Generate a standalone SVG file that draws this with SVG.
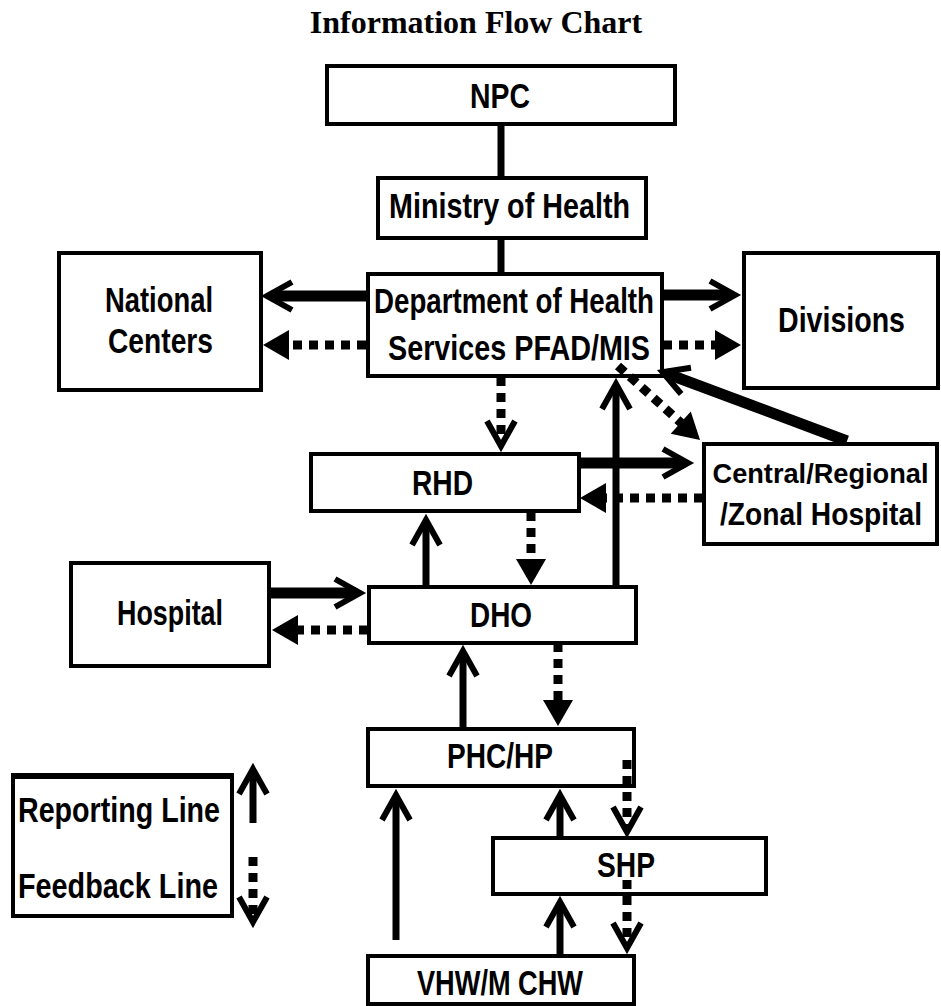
<svg xmlns="http://www.w3.org/2000/svg" width="941" height="1006" viewBox="0 0 941 1006">
<style>
.box{fill:#fff;stroke:#000;stroke-width:4}
.lbl{font-family:"Liberation Sans",Arial,sans-serif;font-weight:bold;font-size:35px;fill:#000;text-anchor:middle}
.s1{font-size:28px}
.s2{font-size:31px}
.title{font-family:"Liberation Serif","Times New Roman",serif;font-weight:bold;font-size:32px;fill:#000;text-anchor:middle}
.rep{stroke:#000;stroke-width:7;fill:none}
.thick{stroke:#000;stroke-width:11;fill:none}
.fb{stroke:#000;stroke-width:9;stroke-dasharray:9 7;fill:none}
</style>
<defs>
<marker id="chev" markerUnits="userSpaceOnUse" orient="auto" refX="-4" refY="0" viewBox="-40 -25 60 50" markerWidth="60" markerHeight="50" overflow="visible">
<path d="M -25 -14 L 0 0 L -25 14" fill="none" stroke="#000" stroke-width="6"/>
</marker>
<marker id="tri" markerUnits="userSpaceOnUse" orient="auto" refX="-8" refY="0" viewBox="-40 -25 60 50" markerWidth="60" markerHeight="50" overflow="visible">
<path d="M -26 -15 L 0 0 L -26 15 Z" fill="#000"/>
</marker>
</defs>
<rect width="941" height="1006" fill="#fff"/>
<text class="title" x="476" y="33">Information Flow Chart</text>

<g id="connectors">
<line class="rep" x1="501" y1="125" x2="501" y2="177"/>
<line class="rep" x1="501" y1="239" x2="501" y2="273"/>
<line class="thick" x1="366" y1="296" x2="271" y2="296" marker-end="url(#chev)"/>
<line class="fb" x1="366" y1="345" x2="271" y2="345" marker-end="url(#tri)"/>
<line class="thick" x1="663" y1="295" x2="731" y2="295" marker-end="url(#chev)"/>
<line class="fb" x1="663" y1="345" x2="733" y2="345" marker-end="url(#tri)"/>
<line class="thick" x1="847" y1="441" x2="666.4" y2="373.5" marker-end="url(#chev)"/>
<line class="fb" x1="618" y1="366" x2="694.1" y2="434.6" marker-end="url(#tri)"/>
<line class="rep" x1="616" y1="586" x2="616" y2="388" marker-end="url(#chev)"/>
<line class="fb" x1="501" y1="377" x2="501" y2="442" marker-end="url(#chev)"/>
<line class="thick" x1="580" y1="463" x2="684" y2="463" marker-end="url(#chev)"/>
<line class="fb" x1="703" y1="498" x2="588" y2="498" marker-end="url(#tri)"/>
<line class="rep" x1="426" y1="586" x2="426" y2="524" marker-end="url(#chev)"/>
<line class="fb" x1="531" y1="512" x2="531" y2="577" marker-end="url(#tri)"/>
<line class="thick" x1="270" y1="593" x2="356" y2="593" marker-end="url(#chev)"/>
<line class="fb" x1="368" y1="630" x2="280" y2="630" marker-end="url(#tri)"/>
<line class="rep" x1="463" y1="728" x2="463" y2="655" marker-end="url(#chev)"/>
<line class="fb" x1="558" y1="643" x2="558" y2="718" marker-end="url(#tri)"/>
<line class="fb" x1="627" y1="760" x2="627" y2="828" marker-end="url(#chev)"/>
<line class="fb" x1="627" y1="880" x2="627" y2="944" marker-end="url(#chev)"/>
<line class="rep" x1="396" y1="940" x2="396" y2="799" marker-end="url(#chev)"/>
<line class="rep" x1="560" y1="837" x2="560" y2="799" marker-end="url(#chev)"/>
<line class="rep" x1="560" y1="955" x2="560" y2="906" marker-end="url(#chev)"/>
<line class="rep" x1="253" y1="823" x2="253" y2="773" marker-end="url(#chev)"/>
<line class="fb" x1="253" y1="857" x2="253" y2="918" marker-end="url(#chev)"/>
</g>

<g id="npc">
<rect class="box" x="327" y="66" width="348" height="58"/>
<text class="lbl" x="500" y="108" textLength="60" lengthAdjust="spacingAndGlyphs">NPC</text>
</g>
<g id="ministry">
<rect class="box" x="378" y="178" width="268" height="60"/>
<text class="lbl" x="509.5" y="218" textLength="241" lengthAdjust="spacingAndGlyphs">Ministry of Health</text>
</g>
<g id="dept">
<rect class="box" x="368" y="274" width="294" height="102" fill-opacity="0"/>
<text class="lbl" x="514" y="313" textLength="280" lengthAdjust="spacingAndGlyphs">Department of Health</text>
<text class="lbl" x="519" y="360" textLength="262" lengthAdjust="spacingAndGlyphs">Services PFAD/MIS</text>
</g>
<g id="national">
<rect class="box" x="59" y="253" width="202" height="137"/>
<text class="lbl" x="159" y="312" textLength="108" lengthAdjust="spacingAndGlyphs">National</text>
<text class="lbl" x="160.5" y="353" textLength="105" lengthAdjust="spacingAndGlyphs">Centers</text>
</g>
<g id="divisions">
<rect class="box" x="744" y="253" width="194" height="135"/>
<text class="lbl" x="841.5" y="332" textLength="127" lengthAdjust="spacingAndGlyphs">Divisions</text>
</g>
<g id="central">
<rect class="box" x="704" y="444" width="233" height="100"/>
<text class="lbl s1" x="820.5" y="483" textLength="216" lengthAdjust="spacingAndGlyphs">Central/Regional</text>
<text class="lbl s2" x="821" y="525" textLength="202" lengthAdjust="spacingAndGlyphs">/Zonal Hospital</text>
</g>
<g id="rhd">
<rect class="box" x="311" y="454" width="268" height="57"/>
<text class="lbl" x="442.5" y="495" textLength="61" lengthAdjust="spacingAndGlyphs">RHD</text>
</g>
<g id="dho">
<rect class="box" x="369" y="587" width="267" height="56"/>
<text class="lbl" x="501" y="627" textLength="62" lengthAdjust="spacingAndGlyphs">DHO</text>
</g>
<g id="hospital">
<rect class="box" x="71" y="563" width="198" height="103"/>
<text class="lbl" x="170" y="625" textLength="106" lengthAdjust="spacingAndGlyphs">Hospital</text>
</g>
<g id="phc">
<rect class="box" x="368" y="729" width="266" height="57" fill-opacity="0"/>
<text class="lbl" x="500" y="768" textLength="106" lengthAdjust="spacingAndGlyphs">PHC/HP</text>
</g>
<g id="shp">
<rect class="box" x="493" y="838" width="273" height="56" fill-opacity="0"/>
<text class="lbl" x="626" y="877" textLength="58" lengthAdjust="spacingAndGlyphs">SHP</text>
</g>
<g id="vhw">
<rect class="box" x="368" y="956" width="266" height="48"/>
<text class="lbl" x="500" y="995" textLength="166" lengthAdjust="spacingAndGlyphs">VHW/M CHW</text>
</g>
<g id="legend">
<rect class="box" x="13" y="776" width="219" height="140"/>
<line x1="11" y1="776" x2="234" y2="776" stroke="#000" stroke-width="6"/>
<text class="lbl" x="119" y="822" textLength="202" lengthAdjust="spacingAndGlyphs">Reporting Line</text>
<text class="lbl" x="118" y="898" textLength="200" lengthAdjust="spacingAndGlyphs">Feedback Line</text>
</g>
</svg>
